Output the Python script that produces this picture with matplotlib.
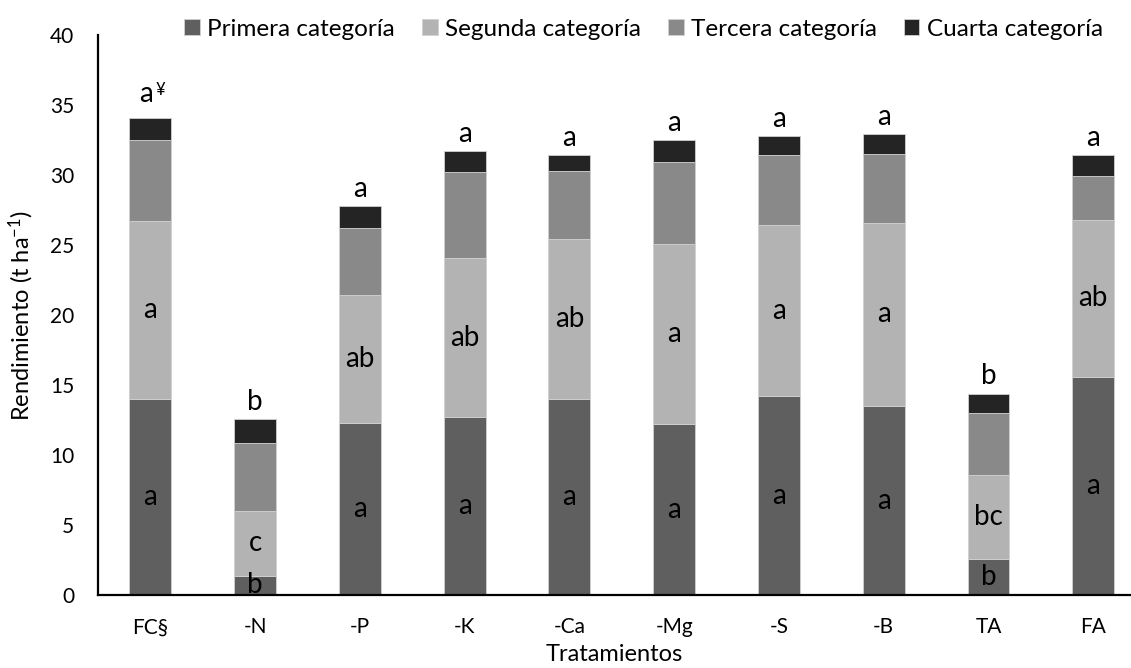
import numpy as np
import matplotlib
matplotlib.use("Agg")
import matplotlib.pyplot as plt

plt.rcParams['font.family'] = ['Lato', 'DejaVu Sans']
plt.rcParams['mathtext.fontset'] = 'custom'
plt.rcParams['mathtext.rm'] = 'Lato'
plt.rcParams['mathtext.it'] = 'Lato:italic'

# Data
tratamientos = ["FC§", "-N", "-P", "-K", "-Ca", "-Mg", "-S", "-B", "TA", "FA"]
primera = [14.0, 1.4, 12.3, 12.7, 14.0, 12.2, 14.2, 13.5, 2.6, 15.6]
segunda = [12.7, 4.6, 9.1, 11.4, 11.45, 12.9, 12.2, 13.1, 5.97, 11.2]
tercera = [5.8, 4.9, 4.8, 6.1, 4.85, 5.8, 5.0, 4.9, 4.43, 3.15]
cuarta = [1.6, 1.67, 1.6, 1.5, 1.1, 1.6, 1.4, 1.4, 1.4, 1.45]

letras_primera = ["a", "b", "a", "a", "a", "a", "a", "a", "b", "a"]
letras_segunda = ["a", "c", "ab", "ab", "ab", "a", "a", "a", "bc", "ab"]
letras_total = ["a", "b", "a", "a", "a", "a", "a", "a", "b", "a"]

series = ["Primera categoría", "Segunda categoría", "Tercera categoría", "Cuarta categoría"]
colores = ["#5f5f5f", "#b3b3b3", "#898989", "#242424"]

fig = plt.figure(figsize=(11.31, 6.68), dpi=100)
ax = fig.add_axes([0.0866, 0.109, 0.9134, 0.8386])

x = np.arange(len(tratamientos))
w = 0.4
bottom = np.zeros(len(x))
for vals, col, lab in zip([primera, segunda, tercera, cuarta], colores, series):
    ax.bar(x, vals, w, bottom=bottom, color=col, edgecolor="#d0d0d0",
           linewidth=0.6, label=lab)
    bottom = bottom + np.array(vals)

fs_let = 20
for i in x:
    ax.text(i, primera[i] / 2, letras_primera[i], ha="center", va="center", fontsize=fs_let)
    ax.text(i, primera[i] + segunda[i] / 2, letras_segunda[i], ha="center", va="center", fontsize=fs_let)
    if i == 0:
        ax.annotate(letras_total[i], (i, bottom[i]), xytext=(-3, 8), textcoords="offset points",
                    ha="center", va="bottom", fontsize=fs_let)
        ax.annotate("¥", (i, bottom[i]), xytext=(7, 14), textcoords="offset points",
                    ha="center", va="bottom", fontsize=12)
    else:
        ax.annotate(letras_total[i], (i, bottom[i]), xytext=(0, 3), textcoords="offset points",
                    ha="center", va="bottom", fontsize=fs_let)

ax.set_ylim(0, 40)
ax.set_xlim(-0.5, 9.36)
ax.set_yticks(range(0, 41, 5))
ax.set_xticks(x)
ax.set_xticklabels(tratamientos)
ax.tick_params(axis="both", length=0, labelsize=15)
ax.tick_params(axis="x", pad=16)
ax.tick_params(axis="y", pad=17)
for s in ["top", "right"]:
    ax.spines[s].set_visible(False)
ax.spines["left"].set_linewidth(1.6)
ax.spines["bottom"].set_linewidth(1.6)

ax.set_xlabel("Tratamientos", fontsize=17, labelpad=5)
ax.set_ylabel("Rendimiento (t ha$^{-1}$)", fontsize=17, labelpad=10)

fig.legend(loc="upper center", bbox_to_anchor=(0.569, 1.005), ncol=4, frameon=False,
           fontsize=17.5, handlelength=0.65, handleheight=0.65, handletextpad=0.3,
           columnspacing=1.1)

fig.savefig("out.png", dpi=100)
